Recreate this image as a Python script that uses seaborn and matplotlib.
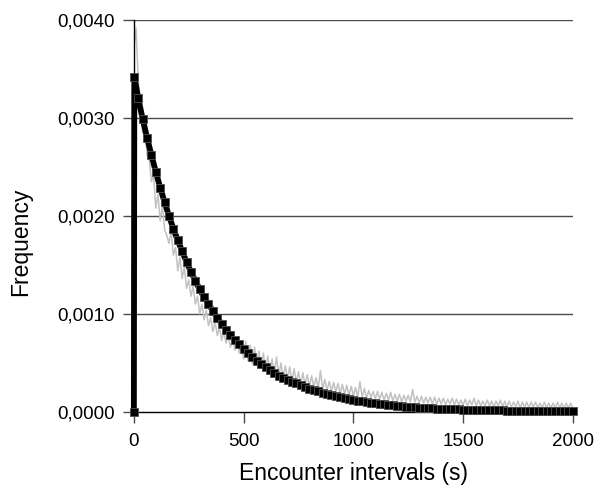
import numpy as np
import pandas as pd
import matplotlib
matplotlib.use("Agg")
import matplotlib.pyplot as plt
from matplotlib.ticker import FuncFormatter
import seaborn as sns

# observed encounter-interval frequencies, 10 s bins from 0 to 2000 s
bin_width = 10
observed_freq = [
    0.00372, 0.00392, 0.00338, 0.00315, 0.00285, 0.00292, 0.00262, 0.00258, 0.00235, 0.00242,
    0.00208, 0.00222, 0.00195, 0.00210, 0.00186, 0.00180, 0.00172, 0.00185, 0.00160, 0.00168,
    0.00144, 0.00158, 0.00136, 0.00148, 0.00126, 0.00135, 0.00118, 0.00128, 0.00110, 0.00118,
    0.00100, 0.00110, 0.00094, 0.00104, 0.00088, 0.00096, 0.00082, 0.00092, 0.00078, 0.00086,
    0.00073, 0.00082, 0.00070, 0.00078, 0.00066, 0.00076, 0.00063, 0.00072, 0.00060, 0.00070,
    0.00054, 0.00072, 0.00052, 0.00068, 0.00049, 0.00066, 0.00048, 0.00062, 0.00044, 0.00060,
    0.00042, 0.00057, 0.00040, 0.00054, 0.00038, 0.00056, 0.00036, 0.00050, 0.00034, 0.00047,
    0.00033, 0.00046, 0.00031, 0.00044, 0.00030, 0.00041, 0.00028, 0.00040, 0.00027, 0.00038,
    0.00026, 0.00037, 0.00025, 0.00035, 0.00024, 0.00042, 0.00023, 0.00033, 0.00022, 0.00031,
    0.00021, 0.00030, 0.00020, 0.00029, 0.00019, 0.00028, 0.00018, 0.00027, 0.00017, 0.00026,
    0.00016, 0.00025, 0.00015, 0.00031, 0.00015, 0.00024, 0.00014, 0.00022, 0.00014, 0.00021,
    0.00013, 0.00021, 0.00013, 0.00020, 0.00012, 0.00019, 0.00012, 0.00020, 0.00011, 0.00018,
    0.00011, 0.00018, 0.00010, 0.00017, 0.00011, 0.00017, 0.00010, 0.00023, 0.00010, 0.00016,
    0.00009, 0.00016, 0.00009, 0.00015, 0.00009, 0.00015, 0.00008, 0.00015, 0.00008, 0.00014,
    0.00008, 0.00014, 0.00007, 0.00013, 0.00008, 0.00014, 0.00007, 0.00013, 0.00007, 0.00012,
    0.00007, 0.00013, 0.00006, 0.00012, 0.00007, 0.00014, 0.00006, 0.00012, 0.00006, 0.00011,
    0.00006, 0.00012, 0.00006, 0.00011, 0.00005, 0.00011, 0.00006, 0.00012, 0.00005, 0.00011,
    0.00005, 0.00011, 0.00005, 0.00010, 0.00005, 0.00011, 0.00004, 0.00010, 0.00005, 0.00010,
    0.00004, 0.00010, 0.00005, 0.00010, 0.00004, 0.00009, 0.00004, 0.00010, 0.00004, 0.00009,
    0.00004, 0.00009, 0.00004, 0.00010, 0.00004, 0.00009, 0.00003, 0.00009, 0.00004, 0.00009,
    0.00004,
]

# fitted exponential curve, read every 20 s
fit_x = [0, 2] + list(range(20, 2001, 20))
fit_freq = [
    0.0, 0.00342,
    0.00320, 0.00299, 0.00280, 0.00262, 0.00245, 0.00229, 0.00214, 0.00200, 0.00187, 0.00175,
    0.00164, 0.00153, 0.00143, 0.00134, 0.00125, 0.00117, 0.00110, 0.00103, 0.00096, 0.00090,
    0.00084, 0.00078, 0.00073, 0.00069, 0.00064, 0.00060, 0.00056, 0.00052, 0.00049, 0.00046,
    0.00043, 0.00040, 0.00037, 0.00035, 0.00033, 0.00031, 0.00029, 0.00027, 0.00025, 0.00023,
    0.00022, 0.00021, 0.00019, 0.00018, 0.00017, 0.00016, 0.00015, 0.00014, 0.00013, 0.00012,
    0.00011, 0.00011, 0.00010, 0.00009, 0.00009, 0.00008, 0.00008, 0.00007, 0.00007, 0.00006,
    0.00006, 0.00005, 0.00005, 0.00005, 0.00004, 0.00004, 0.00004, 0.00004, 0.00003, 0.00003,
    0.00003, 0.00003, 0.00003, 0.00003, 0.00002, 0.00002, 0.00002, 0.00002, 0.00002, 0.00002,
    0.00002, 0.00002, 0.00002, 0.00002, 0.00001, 0.00001, 0.00001, 0.00001, 0.00001, 0.00001,
    0.00001, 0.00001, 0.00001, 0.00001, 0.00001, 0.00001, 0.00001, 0.00001, 0.00001, 0.00001,
]

y_ticks = [0.0, 0.001, 0.002, 0.003, 0.004]
x_ticks = [0, 500, 1000, 1500, 2000]

obs = pd.DataFrame({"interval": np.arange(len(observed_freq)) * bin_width,
                    "freq": observed_freq})
fit = pd.DataFrame({"interval": fit_x, "freq": fit_freq})

sns.set_style("white")
plt.rcParams["font.family"] = ["Liberation Sans", "DejaVu Sans"]
plt.rcParams["text.color"] = "black"
plt.rcParams["axes.labelcolor"] = "black"
plt.rcParams["xtick.labelcolor"] = "black"
plt.rcParams["ytick.labelcolor"] = "black"

fig = plt.figure(figsize=(6.03, 4.88), dpi=100)
ax = fig.add_axes([0.222, 0.156, 0.728, 0.803])

grid_col = "#4a4a4a"
for yt in y_ticks[1:]:
    ax.axhline(yt, color=grid_col, lw=1, zorder=0)

sns.lineplot(data=obs, x="interval", y="freq", ax=ax, color="#c2c2c2",
             lw=1.1, zorder=2)
sns.lineplot(data=fit, x="interval", y="freq", ax=ax, color="black", lw=4.2,
             marker="s", markersize=5.2, markerfacecolor="black",
             markeredgecolor="#505050", markeredgewidth=0.6, zorder=3,
             clip_on=False)

ax.set_xlim(0, 2000)
ax.set_ylim(0, 0.004)
ax.set_xticks(x_ticks)
ax.set_yticks(y_ticks)
ax.yaxis.set_major_formatter(FuncFormatter(lambda v, p: f"{v:.4f}".replace(".", ",")))

for s in ["top", "right"]:
    ax.spines[s].set_visible(False)
ax.spines["left"].set_color("black")
ax.spines["bottom"].set_color("black")
ax.spines["left"].set_linewidth(1)
ax.spines["bottom"].set_linewidth(1)

ax.tick_params(axis="y", direction="out", length=8, width=1, color=grid_col,
               labelsize=13.5, pad=6, left=True, labelcolor="black")
ax.tick_params(axis="x", direction="out", length=8, width=1, color=grid_col,
               labelsize=13.5, pad=7, bottom=True, labelcolor="black")

ax.set_xlabel("Encounter intervals (s)", fontsize=16.5, labelpad=9)
ax.set_ylabel("Frequency", fontsize=16.5)
ax.yaxis.set_label_coords(-0.232, 0.434)

fig.savefig("out.png", dpi=100)
